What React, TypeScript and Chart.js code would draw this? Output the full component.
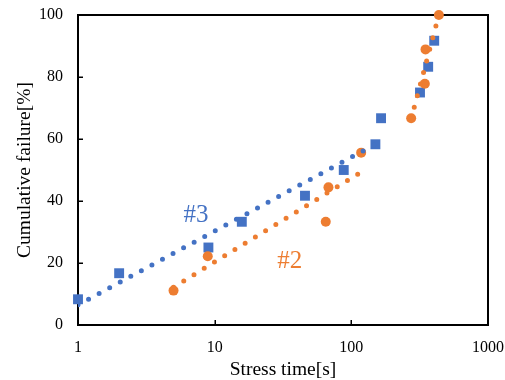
import { useEffect, useRef } from 'react';
import { Chart, registerables } from 'chart.js';

Chart.register(...registerables);

// Data
const blueX = [1, 2, 9, 15.8, 45.8, 88, 150, 165, 318, 365, 404];
const blueY = [8.3, 16.7, 25, 33.3, 41.7, 50, 58.3, 66.7, 75, 83.3, 91.7];
const orangeX = [5, 8.9, 65, 68, 118, 274, 345, 349, 437];
const orangeY = [11.1, 22.2, 33.3, 44.4, 55.6, 66.7, 77.8, 88.9, 100];

const blueTrendX = [1, 150];
const blueTrendY = [6.5, 58.3];
const orangeTrendLowX = [5, 118];
const orangeTrendLowY = [12.2, 49.3];
const orangeTrendHighX = [274, 437];
const orangeTrendHighY = [66.5, 100];

const xTicks = [1, 10, 100, 1000];
const yTicks = [0, 20, 40, 60, 80, 100];

const seriesLabels = ['#3', '#2'];
const labelX = [7.3, 35.5];
const labelY = [35.2, 20.6];

const BLUE = '#4472C4';
const ORANGE = '#ED7D31';
const FONT = 'Liberation Serif, Times New Roman, serif';

const pts = (xs: number[], ys: number[]) => xs.map((x, i) => ({ x, y: ys[i] }));

const decorPlugin = {
  id: 'decor',
  beforeDatasetsDraw(chart: any) {
    const { ctx, chartArea: a, scales } = chart;
    ctx.save();
    ctx.strokeStyle = '#000';
    ctx.lineWidth = 2;
    ctx.beginPath();
    ctx.moveTo(a.left, a.top);
    ctx.lineTo(a.right, a.top);
    ctx.lineTo(a.right, a.bottom);
    ctx.stroke();
    ctx.lineWidth = 1.5;
    ctx.beginPath();
    yTicks.slice(1, -1).forEach((v) => {
      const y = Math.round(scales.y.getPixelForValue(v)) + 0.25;
      ctx.moveTo(a.left, y);
      ctx.lineTo(a.left + 5, y);
    });
    xTicks.slice(1, -1).forEach((v) => {
      const x = Math.round(scales.x.getPixelForValue(v)) + 0.25;
      ctx.moveTo(x, a.bottom);
      ctx.lineTo(x, a.bottom - 5);
    });
    ctx.stroke();
    ctx.restore();
  },
  afterDatasetsDraw(chart: any) {
    const { ctx, scales } = chart;
    ctx.save();
    ctx.font = `25px ${FONT}`;
    ctx.textAlign = 'center';
    ctx.textBaseline = 'middle';
    const colors = [BLUE, ORANGE];
    seriesLabels.forEach((t, i) => {
      ctx.fillStyle = colors[i];
      ctx.fillText(t, scales.x.getPixelForValue(labelX[i]), scales.y.getPixelForValue(labelY[i]));
    });
    ctx.restore();
  },
};

const zeroPad = (s: any) => {
  s.paddingTop = 0;
  s.paddingBottom = 0;
  s.paddingLeft = 0;
  s.paddingRight = 0;
};

export default function App() {
  const ref = useRef<HTMLCanvasElement | null>(null);

  useEffect(() => {
    if (!ref.current) return;
    const trend = (xs: number[], ys: number[], color: string, order: number) => ({
      data: pts(xs, ys),
      showLine: true,
      borderColor: color,
      backgroundColor: color,
      borderWidth: 5,
      borderDash: [0, 12],
      borderCapStyle: 'round',
      pointRadius: 0,
      order,
    });
    const chart = new Chart(ref.current, {
      type: 'scatter',
      data: {
        datasets: [
          {
            data: pts(blueX, blueY),
            pointStyle: 'rect',
            pointRadius: 7,
            backgroundColor: BLUE,
            borderColor: BLUE,
            borderWidth: 0,
            clip: false,
            order: 5,
          },
          {
            data: pts(orangeX, orangeY),
            pointStyle: 'circle',
            pointRadius: 5,
            backgroundColor: ORANGE,
            borderColor: ORANGE,
            borderWidth: 0,
            clip: false,
            order: 4,
          },
          trend(blueTrendX, blueTrendY, BLUE, 3),
          trend(orangeTrendLowX, orangeTrendLowY, ORANGE, 2),
          trend(orangeTrendHighX, orangeTrendHighY, ORANGE, 1),
        ] as any,
      },
      options: {
        responsive: false,
        animation: false,
        events: [],
        layout: { padding: { top: 15, right: 17, bottom: 0, left: 0 } },
        plugins: { legend: { display: false }, tooltip: { enabled: false } },
        scales: {
          x: {
            type: 'logarithmic',
            min: 1,
            max: 1000,
            position: 'bottom',
            afterBuildTicks: (s: any) => {
              s.ticks = xTicks.map((v) => ({ value: v }));
            },
            afterFit: (s: any) => {
              s.height = 55;
              zeroPad(s);
            },
            grid: { display: false, drawTicks: false },
            border: { display: true, color: '#000', width: 2 },
            ticks: {
              callback: (v: any) => String(v),
              font: { family: FONT, size: 16 },
              color: '#000',
              padding: 13,
              maxRotation: 0,
              autoSkip: false,
            },
            title: {
              display: true,
              text: 'Stress time[s]',
              font: { family: FONT, size: 19.5, lineHeight: 1 },
              color: '#000',
              padding: { top: 0, bottom: 0 },
            },
          },
          y: {
            type: 'linear',
            min: 0,
            max: 100,
            afterBuildTicks: (s: any) => {
              s.ticks = yTicks.map((v) => ({ value: v }));
            },
            afterFit: (s: any) => {
              s.width = 78;
              zeroPad(s);
            },
            grid: { display: false, drawTicks: false },
            border: { display: true, color: '#000', width: 2 },
            ticks: {
              font: { family: FONT, size: 16 },
              color: '#000',
              padding: 15,
            },
            title: {
              display: true,
              text: 'Cumulative failure[%]',
              font: { family: FONT, size: 19.5, lineHeight: 1 },
              color: '#000',
              padding: { top: 15, bottom: 0 },
            },
          },
        } as any,
      },
      plugins: [decorPlugin as any],
    });
    return () => chart.destroy();
  }, []);

  return (
    <div style={{ position: 'fixed', left: 0, top: 0, width: 505, height: 380, background: '#fff' }}>
      <canvas ref={ref} width={505} height={380} />
    </div>
  );
}
